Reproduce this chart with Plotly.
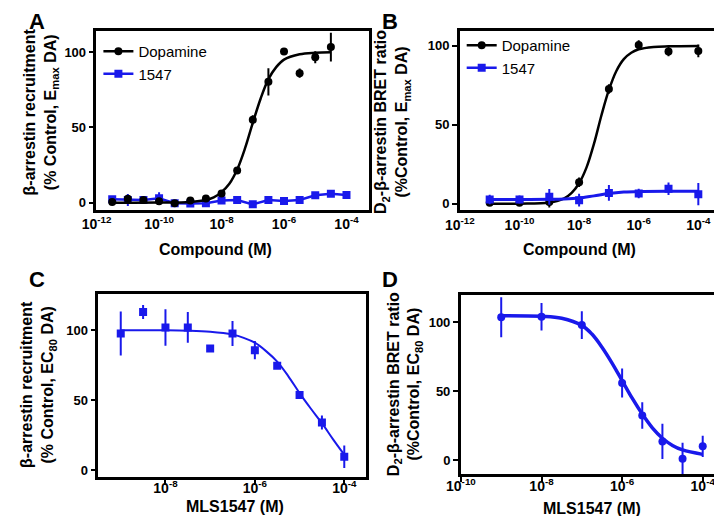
import plotly.graph_objs as go

# colours and fonts
BLUE = 'rgb(25, 25, 235)'
BLACK = 'black'
FONT = 'Arial, Liberation Sans, Helvetica, sans-serif'

'''
Data read off the figure (x values are log10 of the molar concentration)
'''

# panel A - beta-arrestin recruitment
a_da_logx = [-11.5, -11, -10.5, -10, -9.5, -9, -8.5, -8, -7.5, -7, -6.5, -6, -5.5, -5, -4.5]
a_da_y = [0.4, 2.6, 1.8, 1.0, -0.4, 1.5, 2.8, 6.1, 21.3, 55, 80.2, 100.3, 86, 96.6, 103.3]
a_da_err = [1, 2, 1.5, 1.5, 1, 1, 1, 1, 1, 3, 9, 1.5, 3, 4, 9.5]
a_da_fit_logx = [-11.5, -10, -9, -8.5, -8.25, -8, -7.75, -7.5, -7.25, -7, -6.75, -6.5, -6.25, -6, -5.5, -5, -4.5]
a_da_fit_y = [0, 0.05, 0.5, 1.8, 3.5, 7, 12.5, 22, 36, 53, 69, 82, 90, 95, 98.5, 99.5, 99.8]
a_ml_logx = [-11.5, -11, -10.5, -10, -9.5, -9, -8.5, -8, -7.5, -7, -6.5, -6, -5.5, -5, -4.5, -4]
a_ml_y = [2.2, 1.8, 1.8, 2.9, -0.4, -0.6, -0.4, 1.5, 1.8, -1.1, 1.8, 1.2, 1.8, 4.9, 6.0, 5.1]
a_ml_err = [2, 4, 2, 4, 1, 1, 1, 1, 1, 1.5, 1, 1, 1, 2, 1, 1]

# panel B - D2-beta-arrestin BRET
b_da_logx = [-11, -10, -9, -8, -7, -6, -5, -4]
b_da_y = [0.6, 0.6, 1.2, 13.6, 72.6, 100.5, 96.3, 96.7]
b_da_err = [1, 1, 3.5, 3, 3, 3, 3, 4]
b_da_fit_logx = [-11, -10, -9, -8.5, -8.25, -8, -7.75, -7.5, -7.25, -7, -6.75, -6.5, -6.25, -6, -5.5, -5, -4]
b_da_fit_y = [0, 0.05, 0.8, 3.4, 6.9, 13, 23, 38, 56, 72, 84, 91.5, 95.5, 97.7, 99.2, 99.6, 99.8]
b_ml_logx = [-11, -10, -9, -8, -7, -6, -5, -4]
b_ml_y = [2.7, 2.7, 4.4, 2.3, 6.9, 6.5, 9.5, 6.1]
b_ml_err = [3, 2.5, 5, 4, 5, 3, 4, 7]
b_ml_fit_logx = [-11, -10, -9, -8.5, -8, -7.5, -7, -6.5, -6, -5, -4]
b_ml_fit_y = [2.7, 2.7, 2.8, 3.0, 3.6, 5.0, 6.5, 7.4, 7.8, 8.0, 8.0]

# panel C - MLS1547 antagonism, beta-arrestin recruitment
c_logx = [-9, -8.5, -8, -7.5, -7, -6.5, -6, -5.5, -5, -4.5, -4]
c_y = [97.6, 113, 101.9, 101.9, 86.9, 97.6, 85.7, 74.5, 53.6, 34, 9.5]
c_err = [15.7, 5, 13, 11, 0, 9, 6.5, 1, 1, 5, 8]
c_fit_logx = [-9, -8, -7.5, -7, -6.5, -6.25, -6, -5.75, -5.5, -5.25, -5, -4.75, -4.5, -4.25, -4]
c_fit_y = [100, 99.9, 99.6, 98.8, 96.8, 94.5, 91, 85, 77.5, 67, 55, 44, 33.5, 22, 11]

# panel D - MLS1547 antagonism, BRET
d_logx = [-9, -8, -7, -6, -5.5, -5, -4.5, -4]
d_y = [103.6, 104.1, 98, 56.1, 32.5, 13.7, 1.2, 10.1]
d_err = [14.5, 10, 10, 10.5, 9.6, 12.7, 11.5, 7.7]
d_fit_logx = [-9, -8, -7.5, -7, -6.75, -6.5, -6.25, -6, -5.75, -5.5, -5.25, -5, -4.75, -4.5, -4]
d_fit_y = [104.8, 104.4, 103, 97.8, 91.5, 82, 70.5, 57.8, 45, 33.5, 23.5, 16, 10.8, 7.5, 4.3]

# tick labels
ab_tick_exp = [-12, -10, -8, -6, -4]
c_tick_exp = [-8, -6, -4]
d_tick_exp = [-10, -8, -6, -4]


def conc(logx):
    return [10 ** v for v in logx]


def points(logx, y, err, color, symbol, xa, ya):
    return go.Scatter(
        x=conc(logx), y=y, mode='markers', xaxis=xa, yaxis=ya, showlegend=False,
        marker=dict(color=color, symbol=symbol, size=8),
        error_y=dict(type='data', array=err, color=color, thickness=2, width=0))


def curve(logx, y, color, xa, ya, width=2.5):
    return go.Scatter(
        x=conc(logx), y=y, mode='lines', xaxis=xa, yaxis=ya, showlegend=False,
        line=dict(color=color, width=width, shape='spline'), hoverinfo='skip')


def legend_entry(name, color, symbol, legend):
    # legend-only entry showing the line + marker look
    return go.Scatter(x=[None], y=[None], mode='lines+markers', name=name, legend=legend,
                      line=dict(color=color, width=2.5), marker=dict(color=color, symbol=symbol, size=8))


def x_axis(domain, anchor, rng, exps, ticks, standoff=0):
    return dict(
        domain=domain, anchor=anchor, type='log', range=rng,
        tickvals=[10 ** e for e in exps], ticktext=['10<sup>%d</sup>' % e for e in exps],
        showline=True, linewidth=2.5, linecolor=BLACK, mirror=True,
        ticks=ticks, ticklen=5, tickwidth=2, tickcolor=BLACK, ticklabelstandoff=standoff,
        showgrid=False, zeroline=False,
        tickfont=dict(family=FONT, size=14, color=BLACK, weight='bold'))


def y_axis(domain, anchor, rng):
    return dict(
        domain=domain, anchor=anchor, range=rng, tickvals=[0, 50, 100],
        showline=True, linewidth=2.5, linecolor=BLACK, mirror=True,
        ticks='outside', ticklen=5, tickwidth=2, tickcolor=BLACK,
        showgrid=False, zeroline=False,
        tickfont=dict(family=FONT, size=13, color=BLACK, weight='bold'))


def text(txt, x, y, size, angle=0):
    return dict(
        text='<b>%s</b>' % txt, x=x / 722, y=1 - y / 516,
        xref='paper', yref='paper', showarrow=False, textangle=angle,
        xanchor='center', yanchor='middle',
        font=dict(family=FONT, size=size, color=BLACK))


# traces
data = [
    # A
    go.Scatter(x=conc(a_ml_logx), y=a_ml_y, mode='lines+markers', xaxis='x', yaxis='y', showlegend=False,
               line=dict(color=BLUE, width=2.5), marker=dict(color=BLUE, symbol='square', size=8),
               error_y=dict(type='data', array=a_ml_err, color=BLUE, thickness=2, width=0)),
    curve(a_da_fit_logx, a_da_fit_y, BLACK, 'x', 'y'),
    points(a_da_logx, a_da_y, a_da_err, BLACK, 'circle', 'x', 'y'),
    legend_entry('Dopamine', BLACK, 'circle', 'legend'),
    legend_entry('1547', BLUE, 'square', 'legend'),
    # B
    curve(b_da_fit_logx, b_da_fit_y, BLACK, 'x2', 'y2'),
    points(b_da_logx, b_da_y, b_da_err, BLACK, 'circle', 'x2', 'y2'),
    curve(b_ml_fit_logx, b_ml_fit_y, BLUE, 'x2', 'y2', width=3),
    points(b_ml_logx, b_ml_y, b_ml_err, BLUE, 'square', 'x2', 'y2'),
    legend_entry('Dopamine', BLACK, 'circle', 'legend2'),
    legend_entry('1547', BLUE, 'square', 'legend2'),
    # C
    curve(c_fit_logx, c_fit_y, BLUE, 'x3', 'y3', width=2),
    points(c_logx, c_y, c_err, BLUE, 'square', 'x3', 'y3'),
    # D
    curve(d_fit_logx, d_fit_y, BLUE, 'x4', 'y4', width=3.5),
    points(d_logx, d_y, d_err, BLUE, 'circle', 'x4', 'y4'),
]

legend_style = dict(font=dict(family=FONT, size=15, color=BLACK), bgcolor='rgba(0,0,0,0)',
                    xanchor='left', yanchor='top', tracegroupgap=0, itemwidth=30)

layout = go.Layout(
    width=722, height=516, margin=dict(l=0, r=0, t=0, b=0),
    paper_bgcolor='white', plot_bgcolor='white',
    xaxis=x_axis([75 / 722, 353 / 722], 'y', [-12.005, -3.29], ab_tick_exp, ''),
    yaxis=y_axis([1 - 202 / 516, 1 - 23 / 516], 'x', [-4.6, 114]),
    xaxis2=x_axis([446 / 722, 714 / 722], 'y2', [-12.005, -3.2], ab_tick_exp, ''),
    yaxis2=y_axis([1 - 202.5 / 516, 1 - 22.7 / 516], 'x2', [-4, 109.5]),
    xaxis3=x_axis([77 / 722, 350 / 722], 'y3', [-9.5, -3.52], c_tick_exp, 'outside', -9),
    yaxis3=y_axis([1 - 470 / 516, 1 - 286.3 / 516], 'x3', [-5, 126]),
    xaxis4=x_axis([447 / 722, 714.3 / 722], 'y4', [-10.005, -3.51], d_tick_exp, 'outside', -8),
    yaxis4=y_axis([1 - 467 / 516, 1 - 287.3 / 516], 'x4', [-10, 120]),
    legend=dict(x=77 / 722, y=1 - 27 / 516, **legend_style),
    legend2=dict(x=448 / 722, y=1 - 21 / 516, **legend_style),
    annotations=[
        text('A', 14, 14, 22), text('B', 375, 14, 22), text('C', 14, 272, 22), text('D', 375, 272, 22),
        text('Compound (M)', 197, 242, 16), text('Compound (M)', 568, 242, 16),
        text('MLS1547 (M)', 216, 499, 16), text('MLS1547 (M)', 581, 501, 16),
        text('β-arrestin recruitment<br>(% Control, E<sub>max</sub> DA)', 18, 104, 16, -90),
        text('D<sub>2</sub>-β-arrestin BRET ratio<br>(%Control, E<sub>max</sub> DA)', 377, 114, 16, -90),
        text('β-arrestin recruitment<br>(% Control, EC<sub>80</sub> DA)', 16, 377, 16, -90),
        text('D<sub>2</sub>-β-arrestin BRET ratio<br>(%Control, EC<sub>80</sub> DA)', 390, 377, 16, -90),
    ],
)

fig = go.Figure(data=data, layout=layout)
fig.write_html('out.html')
